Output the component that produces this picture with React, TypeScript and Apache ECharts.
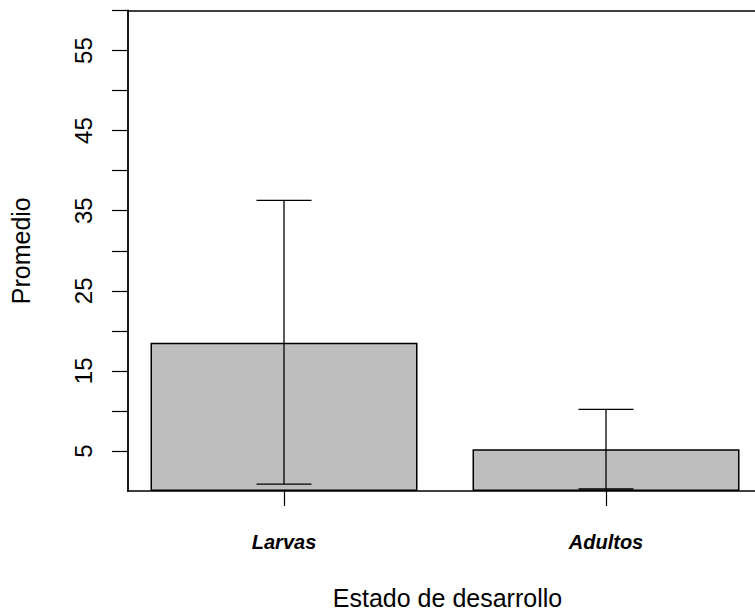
import React, { useEffect, useRef } from "react";
import * as echarts from "echarts";

const categories = ["Larvas", "Adultos"];
const means = [18.5, 5.2];
const lower = [0.85, 0.25];
const upper = [36.3, 10.2];
const yTickValues = [5, 10, 15, 20, 25, 30, 35, 40, 45, 50, 55, 60];
const yLabelValues = [5, 15, 25, 35, 45, 55];
const yTop = 60;

const FONT = "'Liberation Sans', Arial, Helvetica, sans-serif";

export default function App() {
  const ref = useRef<HTMLDivElement>(null);

  useEffect(() => {
    if (!ref.current) return;
    const chart = echarts.init(ref.current, null, { renderer: "svg" });
    const barData = categories.map((_, i) => [i, means[i]]);
    const errData = categories.map((_, i) => [i, lower[i], upper[i]]);
    const idx = categories.map((_, i) => i);

    chart.setOption({
      animation: false,
      backgroundColor: "#ffffff",
      textStyle: { fontFamily: FONT },
      grid: {
        left: 128,
        top: 10.5,
        right: 0,
        bottom: 123,
        show: false,
      },
      xAxis: {
        type: "value",
        min: -0.4845,
        max: 1.4627,
        axisLine: { show: true, onZero: false, lineStyle: { color: "#000", width: 1.6 } },
        axisTick: {
          show: true,
          customValues: idx,
          length: 15,
          lineStyle: { color: "#000", width: 1.2 },
        },
        axisLabel: {
          customValues: idx,
          formatter: (v: number) => categories[Math.round(v)] ?? "",
          fontFamily: FONT,
          fontStyle: "italic",
          fontWeight: "bold",
          fontSize: 20,
          color: "#000",
          margin: 41,
        },
        splitLine: { show: false },
        name: "Estado de desarrollo",
        nameLocation: "middle",
        nameGap: 94,
        nameTextStyle: { fontFamily: FONT, fontSize: 25, color: "#000", padding: [0, 0, 0, 12] },
      },
      yAxis: {
        type: "value",
        min: 0,
        max: 60,
        interval: 5,
        axisLine: { show: true, onZero: false, lineStyle: { color: "#000", width: 1.8 } },
        axisTick: {
          show: true,
          customValues: yTickValues,
          length: 16,
          lineStyle: { color: "#000", width: 1.2 },
        },
        axisLabel: {
          customValues: yLabelValues,
          rotate: 90,
          fontFamily: FONT,
          fontSize: 24,
          color: "#000",
          margin: 33,
        },
        splitLine: { show: false },
        name: "Promedio",
        nameLocation: "middle",
        nameGap: 95,
        nameTextStyle: { fontFamily: FONT, fontSize: 25, color: "#000" },
      },
      series: [
        {
          type: "bar",
          data: barData,
          barWidth: 267,
          itemStyle: { color: "#bebebe", borderColor: "#000", borderWidth: 1.5 },
          z: 2,
          markLine: {
            silent: true,
            symbol: ["none", "none"],
            label: { show: false },
            lineStyle: { color: "#000", width: 1.5, type: "solid" },
            data: [{ yAxis: yTop }],
          },
        },
        {
          type: "custom",
          data: errData,
          encode: { x: 0, y: [1, 2] },
          z: 5,
          renderItem: (params: any, api: any) => {
            const x = api.value(0);
            const pLo = api.coord([x, api.value(1)]);
            const pHi = api.coord([x, api.value(2)]);
            const half = 27.5;
            const style = { stroke: "#000", lineWidth: 1.3 };
            return {
              type: "group",
              children: [
                { type: "line", shape: { x1: pLo[0], y1: pLo[1], x2: pHi[0], y2: pHi[1] }, style },
                { type: "line", shape: { x1: pHi[0] - half, y1: pHi[1], x2: pHi[0] + half, y2: pHi[1] }, style },
                { type: "line", shape: { x1: pLo[0] - half, y1: pLo[1], x2: pLo[0] + half, y2: pLo[1] }, style },
              ],
            };
          },
        },
      ],
    });

    return () => chart.dispose();
  }, []);

  return (
    <div
      ref={ref}
      style={{ position: "fixed", left: 0, top: 0, width: 755, height: 615, background: "#fff" }}
    />
  );
}
